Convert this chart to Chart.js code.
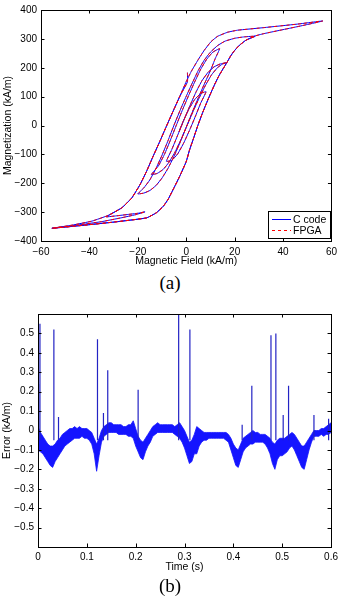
<!DOCTYPE html>
<html>
<head>
<meta charset="utf-8">
<script src="https://cdn.jsdelivr.net/npm/chart.js@4.4.1/dist/chart.umd.min.js"></script>
<style>
  html, body { margin: 0; padding: 0; background: #fff; }
  #page { position: relative; width: 342px; height: 606px; overflow: hidden; }
  .panel { position: absolute; left: 0; width: 342px; }
  .caption { position: absolute; left: 145px; width: 50px; text-align: center;
             font: 19px 'Liberation Serif', 'DejaVu Serif', serif; line-height: 22px; color: #000; }
</style>
</head>
<body>
<div id="page">
  <div class="panel" style="top:0;height:272px"><canvas id="loopChart" width="342" height="272"></canvas></div>
  <div class="caption" style="top:272px">(a)</div>
  <div class="panel" style="top:300px;height:276px"><canvas id="errorChart" width="342" height="276"></canvas></div>
  <div class="caption" style="top:575px">(b)</div>
</div>
<script>
// ---- (a) hysteresis trajectory, [H kA/m, M kA/m], branch by branch ----
const startStep   = [[0.5, 183], [0.5, 151]];
const descToNeg   = [[-2.7, 100], [-5.5, 48], [-8.2, -3], [-10.9, -55], [-13.7, -107], [-16.4, -159], [-19.1, -205],
                     [-22.5, -251], [-26.6, -285], [-32.1, -311], [-38.9, -331], [-47.1, -345], [-55.5, -356]];
const ascMajor    = [[-43, -346], [-29.4, -334], [-16.4, -320], [-12.3, -302], [-9.5, -280], [-7.5, -256], [-5, -215],
                     [-2.7, -176], [0, -125], [1.4, -84], [3, -45], [4.8, 0], [6.8, 45], [8.9, 88], [10.3, 115],
                     [11.8, 143], [13.5, 172], [15.2, 196], [16.8, 218], [18.3, 240], [19.8, 258], [22, 278],
                     [24.6, 295], [28, 309], [32, 318], [40, 332], [48, 346], [56.4, 362]];
const descMajor   = [[45.8, 351], [32.1, 339], [21.2, 330], [17.1, 323], [13, 309], [10.2, 290], [7.5, 261],
                     [4.8, 226], [2, 186], [0, 152], [-2.7, 100], [-5.5, 48], [-8.2, -3], [-10.9, -55],
                     [-13.7, -107], [-16.4, -159], [-19.1, -205], [-22.5, -251], [-26.6, -285], [-33, -316]];
const smallAsc    = [[-29, -313], [-24, -308], [-20, -304], [-17, -299]];
const smallDesc   = [[-21, -309], [-27, -320], [-35, -333], [-45, -345], [-55.5, -356]];
const ascTo28     = [[-43, -346], [-29.4, -334], [-16.4, -320], [-12.3, -302], [-9.5, -280], [-7.5, -256], [-5, -215],
                     [-2.7, -176], [0, -125], [1.4, -84], [3, -45], [4.8, 0], [6.8, 45], [8.9, 88], [10.3, 115],
                     [11.8, 143], [13.5, 172], [15.2, 196], [16.8, 218], [18.3, 240], [19.8, 258], [22, 278],
                     [24.6, 295], [28.5, 309]];
const descD1      = [[24, 307], [20, 302], [16, 292], [13, 277], [10, 254], [7.5, 227], [5, 191], [2.5, 147],
                     [0, 101], [-2.5, 53], [-5, 2], [-7.5, -52], [-10, -103], [-12.5, -149], [-15, -188],
                     [-17.5, -216], [-20, -237]];
const ascA2       = [[-17.5, -234], [-15, -225], [-12.5, -208], [-10, -182], [-7.5, -148], [-5, -106], [-2.5, -58],
                     [0, -6], [2.5, 46], [5, 96], [7.5, 144], [10, 190], [12, 232], [13.8, 266]];
const descD2      = [[11, 254], [8.5, 230], [6, 195], [3.5, 151], [1, 104], [-1.5, 55], [-4, 3], [-6.5, -50],
                     [-9, -100], [-11.5, -140], [-14.4, -170]];
const ascA3       = [[-12, -166], [-9.5, -152], [-7, -126], [-4.5, -90], [-2, -46], [0.5, 3], [3, 52], [5.5, 98],
                     [8, 140], [10.5, 176], [13, 201], [15, 213], [16.8, 218]];
const descD3      = [[14, 213], [11.5, 203], [9, 184], [6.5, 155], [4, 115], [1.5, 68], [-1, 18], [-3.5, -33],
                     [-6, -84], [-8.2, -124]];
const ascA4       = [[-6, -121], [-3.5, -98], [-1, -60], [1.5, -14], [4, 36], [6, 78], [8.2, 117]];
const descD4      = [[6, 111], [3.5, 90], [1, 55], [-1.5, 10], [-3, -22]];

const xTicksA  = [-60, -40, -20, 0, 20, 40, 60];
const xLabelsA = ['\u221260', '\u221240', '\u221220', '0', '20', '40', '60'];
const yTicksA  = [-400, -300, -200, -100, 0, 100, 200, 300, 400];
const yLabelsA = ['\u2212400', '\u2212300', '\u2212200', '\u2212100', '0', '100', '200', '300', '400'];
const seriesNames = ['C code', 'FPGA'];

// ---- (b) error vs time ----
const bandTime = [
  0, 0.005, 0.01, 0.015, 0.02, 0.025, 0.03, 0.035, 0.04, 0.045,
  0.05, 0.055, 0.06, 0.065, 0.07, 0.075, 0.08, 0.085, 0.09, 0.095,
  0.1, 0.105, 0.11, 0.115, 0.12, 0.125, 0.13, 0.135, 0.14, 0.145,
  0.15, 0.155, 0.16, 0.165, 0.17, 0.175, 0.18, 0.185, 0.19, 0.195,
  0.2, 0.205, 0.21, 0.215, 0.22, 0.225, 0.23, 0.235, 0.24, 0.245,
  0.25, 0.255, 0.26, 0.265, 0.27, 0.275, 0.28, 0.285, 0.29, 0.295,
  0.3, 0.305, 0.31, 0.315, 0.32, 0.325, 0.33, 0.335, 0.34, 0.345,
  0.35, 0.355, 0.36, 0.365, 0.37, 0.375, 0.38, 0.385, 0.39, 0.395,
  0.4, 0.405, 0.41, 0.415, 0.42, 0.425, 0.43, 0.435, 0.44, 0.445,
  0.45, 0.455, 0.46, 0.465, 0.47, 0.475, 0.48, 0.485, 0.49, 0.495,
  0.5, 0.505, 0.51, 0.515, 0.52, 0.525, 0.53, 0.535, 0.54, 0.545,
  0.55, 0.555, 0.56, 0.565, 0.57, 0.575, 0.58, 0.585, 0.59, 0.595,
  0.6];
const bandUpper = [
  0.02, -0.01, -0.03, -0.05, -0.07, -0.08, -0.08, -0.07, -0.05, -0.04,
  -0.02, -0.01, 0.00, 0.01, 0.01, 0.02, 0.01, 0.02, 0.01, 0.01,
  0.01, 0.00, -0.01, -0.04, -0.07, -0.04, 0.00, 0.02, 0.03, 0.04,
  0.04, 0.03, 0.03, 0.03, 0.03, 0.02, 0.02, 0.03, 0.03, 0.05,
  0.01, -0.03, -0.05, -0.06, -0.04, -0.02, 0.00, 0.02, 0.03, 0.04,
  0.03, 0.03, 0.03, 0.03, 0.03, 0.03, 0.02, 0.03, 0.04, 0.02,
  0.00, -0.03, -0.06, -0.05, -0.02, 0.02, 0.01, 0.00, -0.01, -0.01,
  -0.01, -0.01, -0.01, -0.01, -0.01, -0.01, -0.01, -0.01, -0.02, -0.04,
  -0.07, -0.09, -0.10, -0.07, -0.04, -0.03, -0.02, -0.01, 0.00, -0.01,
  -0.01, -0.02, -0.02, -0.02, -0.03, -0.04, -0.06, -0.07, -0.05, -0.04,
  -0.04, -0.04, -0.03, -0.02, -0.01, -0.02, -0.04, -0.06, -0.08, -0.08,
  -0.06, -0.04, -0.02, 0.00, 0.00, 0.00, 0.01, 0.01, 0.02, 0.03,
  0.04];
const bandLower = [
  -0.10, -0.11, -0.12, -0.14, -0.16, -0.18, -0.19, -0.16, -0.14, -0.12,
  -0.10, -0.08, -0.07, -0.06, -0.05, -0.04, -0.04, -0.04, -0.03, -0.04,
  -0.04, -0.05, -0.07, -0.12, -0.21, -0.13, -0.06, -0.03, -0.02, -0.01,
  -0.01, -0.01, -0.01, -0.02, -0.02, -0.02, -0.02, -0.03, -0.03, -0.04,
  -0.08, -0.11, -0.14, -0.15, -0.11, -0.08, -0.06, -0.03, -0.02, -0.01,
  -0.01, -0.01, -0.01, -0.01, -0.01, -0.01, -0.02, -0.03, -0.04, -0.06,
  -0.09, -0.13, -0.17, -0.16, -0.12, -0.12, -0.08, -0.06, -0.05, -0.05,
  -0.04, -0.04, -0.04, -0.04, -0.04, -0.04, -0.04, -0.05, -0.06, -0.10,
  -0.14, -0.18, -0.19, -0.15, -0.11, -0.09, -0.08, -0.07, -0.07, -0.06,
  -0.06, -0.06, -0.06, -0.07, -0.09, -0.12, -0.17, -0.20, -0.15, -0.13,
  -0.13, -0.12, -0.11, -0.09, -0.08, -0.10, -0.13, -0.16, -0.19, -0.20,
  -0.15, -0.10, -0.06, -0.03, -0.03, -0.03, -0.02, -0.03, -0.02, -0.02,
  -0.01];
const spikeTime = [0.001, 0.004, 0.0325, 0.042, 0.1218, 0.134, 0.1428, 0.205, 0.288, 0.311,
                   0.418, 0.4378, 0.477, 0.487, 0.502, 0.513, 0.565, 0.595];
const spikePeak = [0.24, 0.55, 0.52, 0.07, 0.47, 0.09, 0.31, 0.21, 0.60, 0.52,
                   0.03, 0.23, 0.49, 0.50, 0.08, 0.23, 0.08, 0.06];
const spikeBase = -0.05;

const xTicksB  = [0, 0.1, 0.2, 0.3, 0.4, 0.5, 0.6];
const xLabelsB = ['0', '0.1', '0.2', '0.3', '0.4', '0.5', '0.6'];
const yTicksB  = [-0.5, -0.4, -0.3, -0.2, -0.1, 0, 0.1, 0.2, 0.3, 0.4, 0.5];
const yLabelsB = ['\u22120.5', '\u22120.4', '\u22120.3', '\u22120.2', '\u22120.1', '0', '0.1', '0.2', '0.3', '0.4', '0.5'];

Chart.defaults.font.family = "'Liberation Sans', Arial, Helvetica, sans-serif";
Chart.defaults.color = '#000';

// MATLAB-style box with inward ticks on all four sides
const boxFrame = {
    id: 'boxFrame',
    afterDatasetsDraw(chart) {
        const { ctx, chartArea: a, scales } = chart;
        const len = 3.5;
        ctx.save();
        ctx.strokeStyle = '#000';
        ctx.lineWidth = 1;
        ctx.beginPath();
        scales.x.ticks.forEach(t => {
            const px = Math.round(scales.x.getPixelForValue(t.value)) + 0.5;
            ctx.moveTo(px, a.bottom); ctx.lineTo(px, a.bottom - len);
            ctx.moveTo(px, a.top);    ctx.lineTo(px, a.top + len);
        });
        scales.y.ticks.forEach(t => {
            const py = Math.round(scales.y.getPixelForValue(t.value)) + 0.5;
            ctx.moveTo(a.left, py);  ctx.lineTo(a.left + len, py);
            ctx.moveTo(a.right, py); ctx.lineTo(a.right - len, py);
        });
        ctx.stroke();
        ctx.strokeRect(Math.round(a.left) + 0.5, Math.round(a.top) + 0.5,
                       Math.round(a.right - a.left), Math.round(a.bottom - a.top));
        ctx.restore();
    }
};

// legend box in the lower right corner of the loop plot
const cornerLegend = {
    id: 'cornerLegend',
    afterDraw(chart) {
        const { ctx, chartArea: a } = chart;
        const w = 62, h = 27;
        const x0 = Math.round(a.right - w - 1), y0 = Math.round(a.bottom - h - 3);
        ctx.save();
        ctx.fillStyle = '#fff';
        ctx.fillRect(x0, y0, w, h);
        ctx.strokeStyle = '#000';
        ctx.lineWidth = 1;
        ctx.strokeRect(x0 + 0.5, y0 + 0.5, w, h);
        ctx.font = "10.5px 'Liberation Sans', Arial, sans-serif";
        ctx.textBaseline = 'middle';
        chart.data.datasets.forEach((ds, i) => {
            const y = y0 + 8.5 + i * 11;
            ctx.beginPath();
            ctx.strokeStyle = ds.borderColor;
            ctx.lineWidth = 1;
            ctx.setLineDash(ds.borderDash || []);
            ctx.moveTo(x0 + 4, y);
            ctx.lineTo(x0 + 23, y);
            ctx.stroke();
            ctx.setLineDash([]);
            ctx.fillStyle = '#000';
            ctx.fillText(ds.label, x0 + 25, y + 0.5);
        });
        ctx.restore();
    }
};

function fixedTicks(values) {
    return scale => { scale.ticks = values.map(v => ({ value: v })); };
}

function axisTitle(text, pad) {
    return { display: true, text: text, color: '#000', font: { size: 10.5 }, padding: pad };
}

// ---- chart (a) ----
const loopPath = [].concat(startStep, descToNeg, ascMajor, descMajor, smallAsc, smallDesc,
                           ascTo28, descD1, ascA2, descD2, ascA3, descD3, ascA4, descD4)
                   .map(p => ({ x: p[0], y: p[1] }));

new Chart(document.getElementById('loopChart'), {
    type: 'scatter',
    data: {
        datasets: [
            { label: seriesNames[0], data: loopPath, showLine: true, borderColor: '#0000ff', borderWidth: 1,
              pointRadius: 0, tension: 0.12, order: 1 },
            { label: seriesNames[1], data: loopPath, showLine: true, borderColor: '#ff0000', borderWidth: 1,
              borderDash: [3, 3], pointRadius: 0, tension: 0.12, order: 0 },
        ],
    },
    options: {
        responsive: false,
        animation: false,
        layout: { padding: { left: 0, right: 8, top: 10, bottom: 0 } },
        plugins: { legend: { display: false }, tooltip: { enabled: false } },
        scales: {
            x: {
                type: 'linear', min: -60, max: 60,
                afterBuildTicks: fixedTicks(xTicksA),
                afterFit: s => { s.height = 31; },
                grid: { display: false, drawTicks: false },
                border: { display: false },
                ticks: { padding: 5, font: { size: 10 }, maxRotation: 0, callback: (v, i) => xLabelsA[i] },
                title: axisTitle('Magnetic Field (kA/m)', { top: 0, bottom: 4.5 }),
            },
            y: {
                type: 'linear', min: -400, max: 400,
                afterBuildTicks: fixedTicks(yTicksA),
                afterFit: s => { s.width = 41; },
                grid: { display: false, drawTicks: false },
                border: { display: false },
                ticks: { padding: 4, font: { size: 10 }, callback: (v, i) => yLabelsA[i] },
                title: axisTitle('Magnetization (kA/m)', { top: 1.7, bottom: 0 }),
            },
        },
    },
    plugins: [boxFrame, cornerLegend],
});

// ---- chart (b) ----
const spikeSegments = [];
spikeTime.forEach((t, i) => {
    spikeSegments.push({ x: t, y: spikeBase }, { x: t, y: spikePeak[i] }, { x: t, y: null });
});

new Chart(document.getElementById('errorChart'), {
    type: 'line',
    data: {
        datasets: [
            { data: bandTime.map((t, i) => ({ x: t, y: bandLower[i] })), borderColor: '#1414ff', borderWidth: 0.8,
              pointRadius: 0, fill: false, order: 2 },
            { data: bandTime.map((t, i) => ({ x: t, y: bandUpper[i] })), borderColor: '#1414ff', borderWidth: 0.8,
              pointRadius: 0, fill: '-1', backgroundColor: '#1414ff', order: 1 },
            { data: spikeSegments, borderColor: '#2323c4', borderWidth: 1.2, pointRadius: 0,
              spanGaps: false, fill: false, order: 0 },
        ],
    },
    options: {
        responsive: false,
        animation: false,
        layout: { padding: { left: 0, right: 8, top: 14, bottom: 0 } },
        plugins: { legend: { display: false }, tooltip: { enabled: false } },
        scales: {
            x: {
                type: 'linear', min: 0, max: 0.6,
                afterBuildTicks: fixedTicks(xTicksB),
                afterFit: s => { s.height = 29; },
                grid: { display: false, drawTicks: false },
                border: { display: false },
                ticks: { padding: 4, font: { size: 10 }, maxRotation: 0, callback: (v, i) => xLabelsB[i] },
                title: axisTitle('Time (s)', { top: 0, bottom: 3 }),
            },
            y: {
                type: 'linear', min: -0.6, max: 0.6,
                afterBuildTicks: fixedTicks(yTicksB),
                afterFit: s => { s.width = 38; },
                grid: { display: false, drawTicks: false },
                border: { display: false },
                ticks: { padding: 4, font: { size: 10 }, callback: (v, i) => yLabelsB[i] },
                title: axisTitle('Error (kA/m)', { top: 1.2, bottom: 0 }),
            },
        },
    },
    plugins: [boxFrame],
});
</script>
</body>
</html>
